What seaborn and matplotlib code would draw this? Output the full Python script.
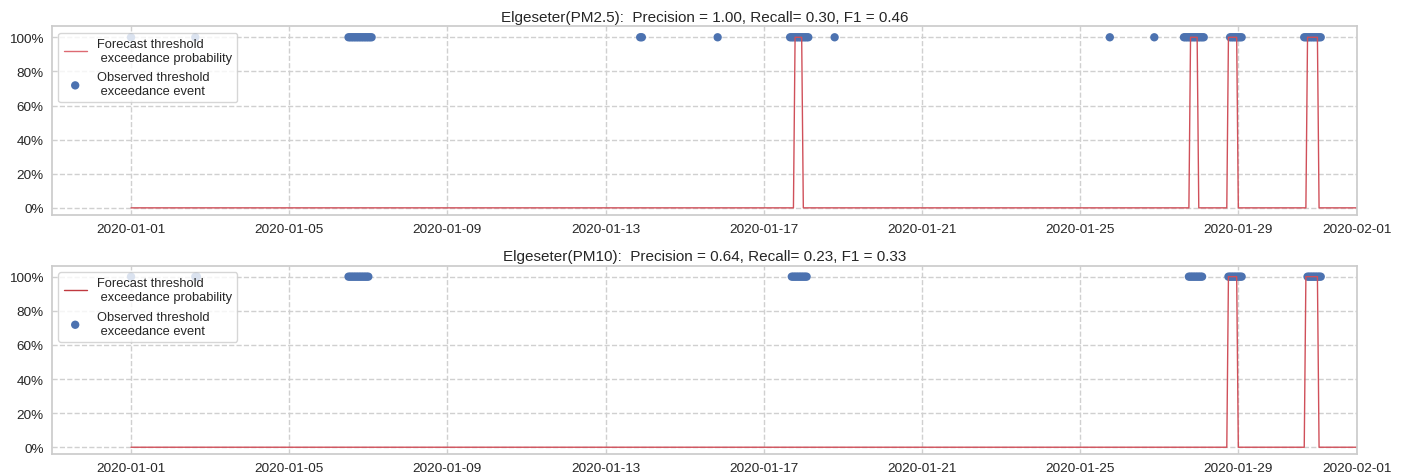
import pandas as pd
import numpy as np
import matplotlib
matplotlib.use("Agg")
import matplotlib.pyplot as plt
import matplotlib.dates as mdates
from matplotlib.ticker import PercentFormatter
import seaborn as sns

# ======== DATA ========
START = "2020-01-01 00:00"
END = "2020-02-01 00:00"

titles = [
    "Elgeseter(PM2.5):  Precision = 1.00, Recall= 0.30, F1 = 0.46",
    "Elgeseter(PM10):  Precision = 0.64, Recall= 0.23, F1 = 0.33",
]

# hours where the forecast probability is 100% (otherwise 0%)
pm25_forecast = [("2020-01-17 19:00", "2020-01-17 23:00"),
                 ("2020-01-27 19:00", "2020-01-27 23:00"),
                 ("2020-01-28 18:00", "2020-01-28 23:00"),
                 ("2020-01-30 18:00", "2020-01-31 00:00")]
pm10_forecast = [("2020-01-28 18:00", "2020-01-28 23:00"),
                 ("2020-01-30 17:00", "2020-01-31 00:00")]

# observed exceedance hours
pm25_observed = [("2020-01-01 00:00", "2020-01-01 00:00"),
                 ("2020-01-02 15:00", "2020-01-02 15:00"),
                 ("2020-01-06 12:00", "2020-01-07 02:00"),
                 ("2020-01-13 21:00", "2020-01-13 22:00"),
                 ("2020-01-15 20:00", "2020-01-15 20:00"),
                 ("2020-01-17 16:00", "2020-01-18 03:00"),
                 ("2020-01-18 19:00", "2020-01-18 19:00"),
                 ("2020-01-25 18:00", "2020-01-25 18:00"),
                 ("2020-01-26 21:00", "2020-01-26 21:00"),
                 ("2020-01-27 15:00", "2020-01-28 03:00"),
                 ("2020-01-28 19:00", "2020-01-29 02:00"),
                 ("2020-01-30 16:00", "2020-01-31 02:00")]
pm10_observed = [("2020-01-01 00:00", "2020-01-01 00:00"),
                 ("2020-01-02 15:00", "2020-01-02 16:00"),
                 ("2020-01-06 12:00", "2020-01-07 00:00"),
                 ("2020-01-17 17:00", "2020-01-18 02:00"),
                 ("2020-01-27 18:00", "2020-01-28 02:00"),
                 ("2020-01-28 18:00", "2020-01-29 02:00"),
                 ("2020-01-30 18:00", "2020-01-31 02:00")]


def hourly_forecast(intervals):
    idx = pd.date_range(START, END, freq="h")
    prob = pd.Series(0.0, index=idx)
    for a, b in intervals:
        prob[a:b] = 1.0
    return pd.DataFrame({"time": idx, "prob": prob.values})


def hourly_events(intervals):
    times = np.concatenate([pd.date_range(a, b, freq="h") for a, b in intervals])
    return pd.DataFrame({"time": times, "event": 1.0})


# ======== PLOT ========
sns.set_theme(style="whitegrid", context="notebook",
              rc={"grid.linestyle": "--", "grid.color": "#d0d0d0"})
plt.rcParams["font.family"] = ["Liberation Sans", "DejaVu Sans"]

fig, axes = plt.subplots(2, 1, figsize=(14.04, 4.77), dpi=100)
fig.subplots_adjust(left=0.037, right=0.9665, top=0.943, bottom=0.046, hspace=0.27)

panels = [(pm25_forecast, pm25_observed, "#dd6a72"),
          (pm10_forecast, pm10_observed, "#c0393f")]

for ax, title, (fc, ob, legend_col) in zip(axes, titles, panels):
    fdf = hourly_forecast(fc)
    odf = hourly_events(ob)
    sns.lineplot(data=fdf, x="time", y="prob", ax=ax, color="#d0505a",
                 linewidth=1.0, label="Forecast threshold\n exceedance probability")
    sns.scatterplot(data=odf, x="time", y="event", ax=ax, color="#4c72b0",
                    s=36, edgecolor="none",
                    label="Observed threshold\n exceedance event")
    ax.set_title(title, fontsize=11, pad=4)
    ax.set_xlabel("")
    ax.set_ylabel("")
    ax.set_ylim(-0.04, 1.065)
    ax.set_xlim(pd.Timestamp("2019-12-30"), pd.Timestamp("2020-02-01"))
    ax.yaxis.set_major_formatter(PercentFormatter(1.0, decimals=0))
    ax.xaxis.set_major_locator(mdates.DayLocator(bymonthday=[1, 5, 9, 13, 17, 21, 25, 29]))
    ax.xaxis.set_major_formatter(mdates.DateFormatter("%Y-%m-%d"))
    ax.tick_params(labelsize=9.7, pad=6, length=0)
    leg = ax.legend(loc="upper left", fontsize=9.3, framealpha=0.8,
                    handlelength=1.8, labelspacing=0.6)
    leg.get_lines()[0].set_color(legend_col)

plt.savefig("out.png", dpi=100)
